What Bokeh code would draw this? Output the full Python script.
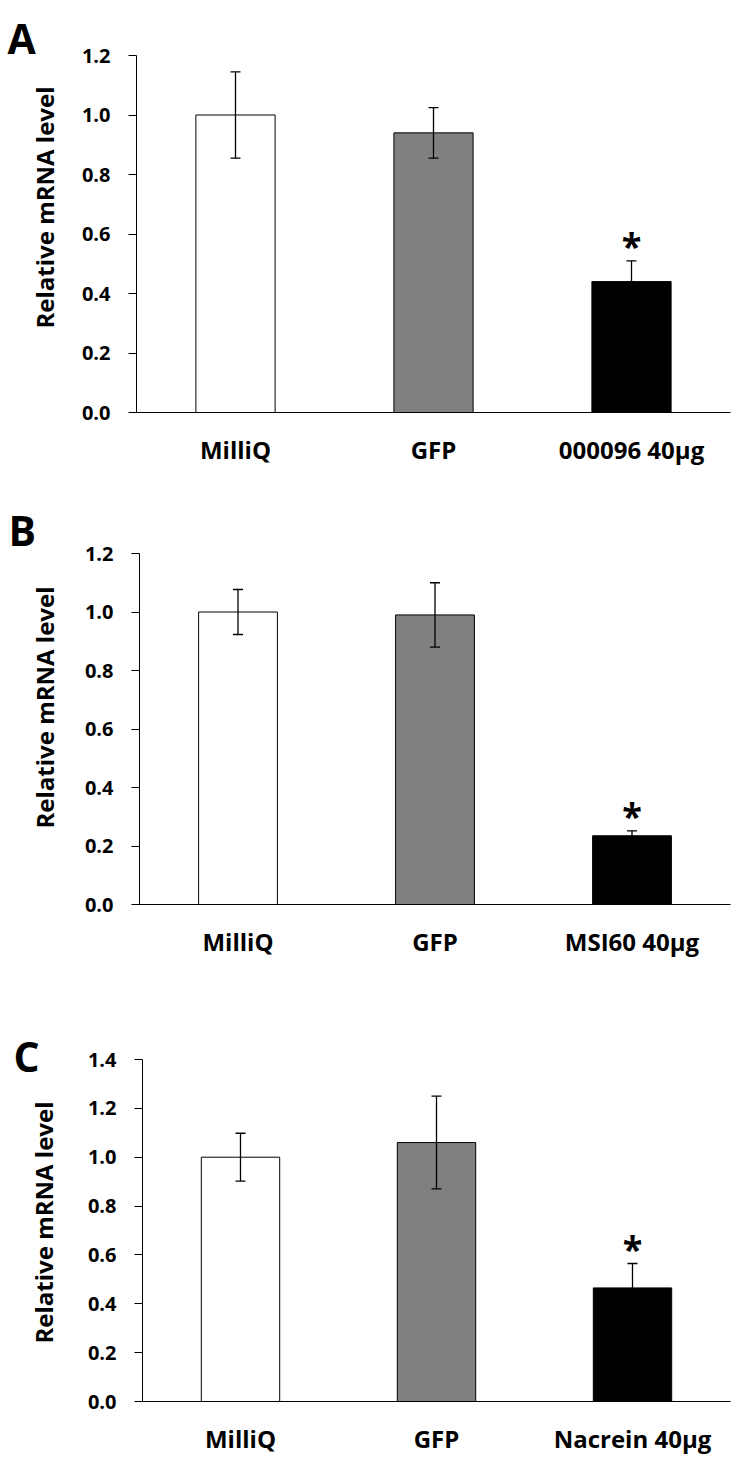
import math
from bokeh.plotting import figure
from bokeh.layouts import column, row
from bokeh.models import (ColumnDataSource, FactorRange, Range1d, FixedTicker,
                          PrintfTickFormatter, Whisker, TeeHead)
from bokeh.core.properties import value
from bokeh.embed import file_html
from bokeh.resources import INLINE

# ---------------- data ----------------
cats_a = ["MilliQ", "GFP", "000096 40µg"]
means_a = [1.00, 0.94, 0.44]
errs_a = [0.145, 0.085, 0.07]
stars_a = ["", "", "*"]

cats_b = ["MilliQ", "GFP", "MSI60 40µg"]
means_b = [1.00, 0.99, 0.235]
errs_b = [0.077, 0.11, 0.017]
stars_b = ["", "", "*"]

cats_c = ["MilliQ", "GFP", "Nacrein 40µg"]
means_c = [1.00, 1.06, 0.465]
errs_c = [0.098, 0.19, 0.10]
stars_c = ["", "", "*"]

ticks_ab = [0.0, 0.2, 0.4, 0.6, 0.8, 1.0, 1.2]
ticks_c = [0.0, 0.2, 0.4, 0.6, 0.8, 1.0, 1.2, 1.4]

y_title = "Relative mRNA level"

# ---------------- styles ----------------
BAR_COLORS = ["#FFFFFF", "#808080", "#000000"]
FONT = "Open Sans"
PAGE_W = 738
STRIP_W = 64
FRAME_RIGHT = 730


def make_panel(letter, cats, means, errs, stars, ticks, ymax,
               fig_top, fig_h, frame_top, frame_bottom, frame_left,
               letter_pos, ylab_pos):
    # ---- left strip holding the panel letter and the y title ----
    s = figure(width=STRIP_W, height=fig_h, x_range=Range1d(0, STRIP_W),
               y_range=Range1d(fig_h, 0), x_axis_location=None, y_axis_location=None,
               output_backend="svg", toolbar_location=None, min_border=0,
               frame_align=False)
    s.outline_line_color = None
    s.grid.grid_line_color = None
    s.text(x=[letter_pos[0]], y=[letter_pos[1] - fig_top], text=[letter],
           text_font=value(FONT), text_font_style="bold", text_font_size="41px",
           text_align="left", text_baseline="alphabetic", text_color="black")
    s.text(x=[ylab_pos[0]], y=[ylab_pos[1] - fig_top], text=[y_title], angle=math.pi / 2,
           text_font=value(FONT), text_font_style="bold", text_font_size="24px",
           text_align="center", text_baseline="middle", text_color="black")

    # ---- main bar chart ----
    p = figure(width=PAGE_W - STRIP_W, height=fig_h,
               x_range=FactorRange(*cats, range_padding=0),
               y_range=Range1d(0, ymax),
               output_backend="svg", toolbar_location=None, frame_align=False)
    p.min_border_left = frame_left - STRIP_W
    p.min_border_right = PAGE_W - FRAME_RIGHT
    p.min_border_top = frame_top - fig_top
    p.min_border_bottom = fig_top + fig_h - frame_bottom
    p.outline_line_color = None
    p.grid.grid_line_color = None

    src = ColumnDataSource(dict(
        cats=cats, means=means,
        upper=[m + e for m, e in zip(means, errs)],
        lower=[m - e for m, e in zip(means, errs)],
        colors=BAR_COLORS, stars=stars,
    ))

    p.vbar(x="cats", top="means", width=0.4, source=src, fill_color="colors",
           line_color="black", line_width=1)

    p.add_layout(Whisker(base="cats", upper="upper", lower="lower", source=src,
                         level="overlay",
                         line_color="black", line_width=1.3,
                         upper_head=TeeHead(size=10, line_color="black", line_width=1.3),
                         lower_head=TeeHead(size=10, line_color="black", line_width=1.3)))

    p.text(x="cats", y="upper", text="stars", source=src, y_offset=-15,
           text_font=value(FONT), text_font_style="bold", text_font_size="36px",
           text_align="center", text_baseline="alphabetic", text_color="black")

    # x (category) axis
    xa = p.xaxis[0]
    xa.major_label_text_font = FONT
    xa.major_label_text_font_style = "bold"
    xa.major_label_text_font_size = "24px"
    xa.major_label_text_color = "black"
    xa.major_tick_line_color = None
    xa.major_tick_in = 0
    xa.major_tick_out = 0
    xa.minor_tick_line_color = None
    xa.major_label_standoff = 20
    xa.axis_line_color = "black"

    # y axis
    ya = p.yaxis[0]
    ya.ticker = FixedTicker(ticks=ticks)
    ya.formatter = PrintfTickFormatter(format="%.1f")
    ya.major_label_text_font = FONT
    ya.major_label_text_font_style = "bold"
    ya.major_label_text_font_size = "20px"
    ya.major_label_text_color = "black"
    ya.major_tick_in = 0
    ya.major_tick_out = 8
    ya.major_label_standoff = 18
    ya.minor_tick_line_color = None
    ya.axis_line_color = "black"
    ya.major_tick_line_color = "black"

    return row(s, p, spacing=0)


pa = make_panel("A", cats_a, means_a, errs_a, stars_a, ticks_ab, 1.2,
                fig_top=0, fig_h=480, frame_top=55, frame_bottom=412, frame_left=136,
                letter_pos=(7, 37), ylab_pos=(44, 207))
pb = make_panel("B", cats_b, means_b, errs_b, stars_b, ticks_ab, 1.2,
                fig_top=480, fig_h=480, frame_top=553, frame_bottom=905, frame_left=139,
                letter_pos=(8, 529), ylab_pos=(44, 707))
pc = make_panel("C", cats_c, means_c, errs_c, stars_c, ticks_c, 1.4,
                fig_top=960, fig_h=497, frame_top=1059, frame_bottom=1402, frame_left=142,
                letter_pos=(13, 1055), ylab_pos=(43, 1222))

layout = column(pa, pb, pc, spacing=0)
open("out.html", "w").write(file_html(layout, INLINE))
